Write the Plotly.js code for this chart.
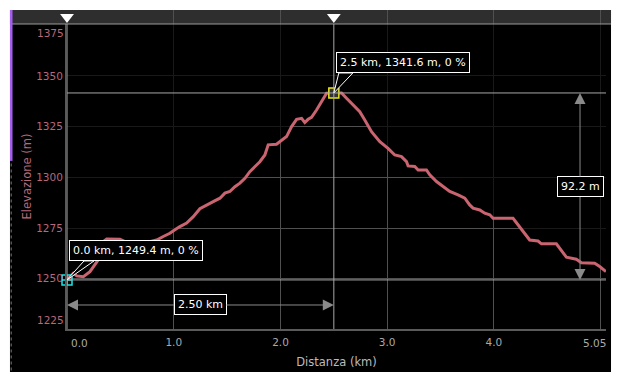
<!DOCTYPE html>
<html><head><meta charset="utf-8">
<script src="https://cdn.plot.ly/plotly-3.0.1.min.js"></script>
<style>html,body{margin:0;padding:0;background:#fff;}#chart{width:621px;height:382px;}</style>
</head><body><div id="chart"></div>
<script>
const distKm = [0, 0.059, 0.091, 0.153, 0.215, 0.246, 0.293, 0.340, 0.372, 0.496, 0.543, 0.684, 0.840, 0.902, 0.964, 1.011, 1.058, 1.121, 1.183, 1.245, 1.308, 1.370, 1.433, 1.479, 1.526, 1.573, 1.620, 1.667, 1.713, 1.760, 1.807, 1.854, 1.885, 1.963, 2.010, 2.057, 2.104, 2.151, 2.198, 2.228, 2.259, 2.291, 2.338, 2.385, 2.432, 2.5, 2.572, 2.619, 2.681, 2.743, 2.790, 2.853, 2.931, 3.008, 3.071, 3.134, 3.181, 3.196, 3.258, 3.290, 3.368, 3.399, 3.462, 3.523, 3.586, 3.664, 3.727, 3.773, 3.804, 3.867, 3.914, 3.961, 3.992, 4.179, 4.226, 4.288, 4.335, 4.413, 4.445, 4.585, 4.616, 4.679, 4.772, 4.819, 4.944, 4.991, 5.050];
const elevM = [1249.4, 1252.7, 1251.4, 1251.0, 1253.5, 1256.0, 1259.3, 1268.3, 1269.6, 1269.5, 1268.3, 1267.0, 1269.1, 1270.8, 1272.4, 1274.1, 1275.7, 1277.4, 1280.6, 1284.5, 1286.4, 1288.0, 1289.7, 1292.2, 1293.0, 1295.4, 1297.1, 1299.5, 1302.8, 1305.3, 1307.7, 1311.0, 1316.0, 1316.3, 1318.4, 1320.1, 1325.0, 1328.6, 1329.1, 1327.0, 1328.6, 1329.6, 1333.2, 1337.3, 1341.5, 1341.6, 1341.6, 1339.0, 1335.7, 1332.4, 1328.3, 1322.5, 1317.6, 1314.3, 1311.0, 1310.2, 1307.7, 1305.6, 1305.3, 1303.6, 1303.6, 1301.2, 1297.9, 1295.4, 1293.0, 1291.3, 1289.7, 1286.4, 1284.8, 1283.9, 1282.3, 1281.5, 1279.8, 1279.8, 1276.5, 1272.4, 1269.1, 1268.6, 1267.2, 1267.2, 1265.0, 1260.6, 1259.6, 1257.9, 1257.6, 1256.0, 1253.5];

const selKm = [0, 2.5];
const selElev = [1249.4, 1341.6];
const selGrade = [0, 0];
const selColors = ['#1ee6e6', '#e6e61e'];

const xTickVals = [1, 2, 3, 4, 5];
const xTickText = ['1.0', '2.0', '3.0', '4.0', ''];
const xEdgeVals = [0, 5.05];
const xEdgeText = ['0.0', '5.05'];
const yTickVals = [1250, 1275, 1300, 1325, 1350];
const yEdgeVals = [1225, 1375];
const xRange = [0, 5.05];
const yRange = [1225.2, 1375.6];

const FONT = 'DejaVu Sans, Verdana, sans-serif';
const PINK = '#b8687a';
const LINE = '#c96470';
const GRID = '#505050';

const traces = [
  { x: distKm, y: elevM, type: 'scatter', mode: 'lines', line: { width: 0, color: LINE }, hoverinfo: 'skip', showlegend: false },
  { x: distKm, y: distKm.map(() => yRange[1]), type: 'scatter', mode: 'lines', line: { width: 0 }, fill: 'tonexty', fillcolor: 'rgba(0,0,0,0.68)', hoverinfo: 'skip', showlegend: false },
  { x: distKm, y: elevM, type: 'scatter', mode: 'lines', line: { width: 3, color: LINE }, showlegend: false },
  { x: [selKm[0]], y: [selElev[0]], type: 'scatter', mode: 'markers', cliponaxis: false,
    marker: { symbol: 'square-cross-open', size: 10, color: selColors[0], line: { width: 1.5, color: selColors[0] } }, showlegend: false },
  { x: [selKm[1]], y: [selElev[1]], type: 'scatter', mode: 'markers', cliponaxis: false,
    marker: { symbol: 'square', size: 10, color: '#333', line: { width: 1.5, color: selColors[1] } }, showlegend: false },
  { x: selKm, y: selKm.map(() => 0.5), yaxis: 'y2', type: 'scatter', mode: 'markers', cliponaxis: false,
    marker: { symbol: 'triangle-down', size: 12, color: '#ffffff' }, showlegend: false, hoverinfo: 'skip' }
];

const plotTop = 0.9561;
const shapes = [
  { type: 'rect', xref: 'paper', yref: 'paper', x0: -0.1058, x1: 1.0093, y0: -0.1348, y1: 1, fillcolor: '#000', line: { width: 0 }, layer: 'below' },
  { type: 'rect', xref: 'paper', yref: 'paper', x0: -0.1058, x1: 1.0093, y0: plotTop, y1: 1, fillcolor: '#2e2e2e', line: { width: 0 }, layer: 'below' },
  { type: 'line', xref: 'paper', yref: 'paper', x0: -0.1058, x1: 1.0093, y0: plotTop, y1: plotTop, line: { color: '#9a9a9a', width: 1 } },
  { type: 'rect', xref: 'paper', yref: 'paper', x0: -0.1058, x1: -0.1011, y0: 0.527, y1: 1, fillcolor: '#a55cf0', line: { width: 0 } },
  { type: 'line', xref: 'paper', yref: 'paper', x0: -0.1035, x1: -0.1035, y0: -0.13, y1: 0.527, line: { color: '#777', width: 1, dash: 'dot' } }
];
selKm.forEach((k, i) => {
  shapes.push({ type: 'line', xref: 'x domain', yref: 'y', x0: 0, x1: 1, y0: selElev[i], y1: selElev[i], line: { color: '#a8a8a8', width: 1 } });
  shapes.push({ type: 'line', xref: 'x', yref: 'y domain', x0: k, x1: k, y0: 0, y1: 1, line: { color: '#a8a8a8', width: 1 } });
});
// callout wedges
const wedge = [[17, 27, 19], [5, 19, 20]];
selKm.forEach((k, i) => {
  const w = wedge[i];
  shapes.push({ type: 'path', xref: 'x', yref: 'y', xsizemode: 'pixel', ysizemode: 'pixel', xanchor: k, yanchor: selElev[i],
    path: `M0,0 L${w[0]},${w[2]} L${w[1]},${w[2]} Z`, fillcolor: '#000', line: { color: '#ffffff', width: 1 } });
});

const annotations = [];
selKm.forEach((k, i) => {
  annotations.push({ x: k, y: selElev[i], xref: 'x', yref: 'y', showarrow: false, xanchor: 'left', yanchor: 'bottom',
    xshift: 2, yshift: wedge[i][2],
    text: `${k.toFixed(1)} km, ${selElev[i].toFixed(1)} m, ${selGrade[i]} %`,
    font: { family: FONT, size: 11, color: '#fff' }, bgcolor: '#000', bordercolor: '#fff', borderwidth: 1, borderpad: 3 });
});
// distance measure
const distLabel = (selKm[1] - selKm[0]).toFixed(2) + ' km';
const midKm = (selKm[0] + selKm[1]) / 2;
selKm.forEach((k) => {
  annotations.push({ x: k, y: 0.0787, xref: 'x', yref: 'y domain', ax: midKm, axref: 'x', ay: 0, ayref: 'pixel',
    showarrow: true, arrowhead: 2, arrowsize: 2.2, arrowwidth: 1, arrowcolor: '#8a8a8a', standoff: 0,
    text: distLabel, font: { family: FONT, size: 11, color: '#fff' }, bgcolor: '#000', bordercolor: '#fff', borderwidth: 1, borderpad: 3 });
});
// elevation measure
const gainLabel = (selElev[1] - selElev[0]).toFixed(1) + ' m';
const midElev = (selElev[0] + selElev[1]) / 2;
selElev.forEach((e) => {
  annotations.push({ x: 0.9518, y: e, xref: 'x domain', yref: 'y', ax: 0, axref: 'pixel', ay: midElev, ayref: 'y',
    showarrow: true, arrowhead: 2, arrowsize: 2.2, arrowwidth: 1, arrowcolor: '#8a8a8a', standoff: 0,
    text: gainLabel, font: { family: FONT, size: 11, color: '#fff' }, bgcolor: '#000', bordercolor: '#fff', borderwidth: 1, borderpad: 3 });
});
// edge tick labels
annotations.push({ x: xEdgeVals[0], y: 0, xref: 'x', yref: 'paper', xanchor: 'left', yanchor: 'top', xshift: 2, yshift: -6, showarrow: false,
  text: xEdgeText[0], font: { family: FONT, size: 10.5, color: '#aaaaaa' } });
annotations.push({ x: xEdgeVals[1], y: 0, xref: 'x', yref: 'paper', xanchor: 'right', yanchor: 'top', xshift: 2, yshift: -6, showarrow: false,
  text: xEdgeText[1], font: { family: FONT, size: 10.5, color: '#aaaaaa' } });
annotations.push({ x: 0, y: yEdgeVals[1], xref: 'paper', yref: 'y', xanchor: 'right', yanchor: 'top', xshift: -1, showarrow: false,
  text: String(yEdgeVals[1]), font: { family: FONT, size: 10.5, color: PINK } });
annotations.push({ x: 0, y: 0, xref: 'paper', yref: 'y domain', xanchor: 'right', yanchor: 'bottom', xshift: -1, yshift: 1, showarrow: false,
  text: String(yEdgeVals[0]), font: { family: FONT, size: 10.5, color: PINK } });

const layout = {
  width: 621, height: 382,
  margin: { l: 67, r: 15, t: 10, b: 53 },
  paper_bgcolor: '#ffffff', plot_bgcolor: '#000000',
  font: { family: FONT, size: 10.5 },
  showlegend: false,
  xaxis: {
    range: xRange, tickvals: xTickVals, ticktext: xTickText,
    tickfont: { family: FONT, size: 10.5, color: '#aaaaaa' },
    showgrid: true, gridcolor: GRID, gridwidth: 1, zeroline: false,
    showline: true, linecolor: '#5a5a5a', linewidth: 2,
    ticks: '', ticklabelstandoff: 2,
    title: { text: 'Distanza (km)', font: { family: FONT, size: 11.5, color: '#bbbbbb' }, standoff: 11 }
  },
  yaxis: {
    domain: [0, plotTop], range: yRange, tickvals: yTickVals,
    tickfont: { family: FONT, size: 10.5, color: PINK },
    showgrid: true, gridcolor: GRID, gridwidth: 1, zeroline: false,
    showline: true, linecolor: '#5a5a5a', linewidth: 2,
    ticks: '',
    title: { text: 'Elevazione (m)', font: { family: FONT, size: 11.5, color: PINK }, standoff: 2 }
  },
  yaxis2: { domain: [plotTop, 1], range: [0, 1], visible: false, fixedrange: true },
  shapes: shapes,
  annotations: annotations
};

Plotly.newPlot('chart', traces, layout, { displayModeBar: false, staticPlot: true });
</script>
</body></html>
